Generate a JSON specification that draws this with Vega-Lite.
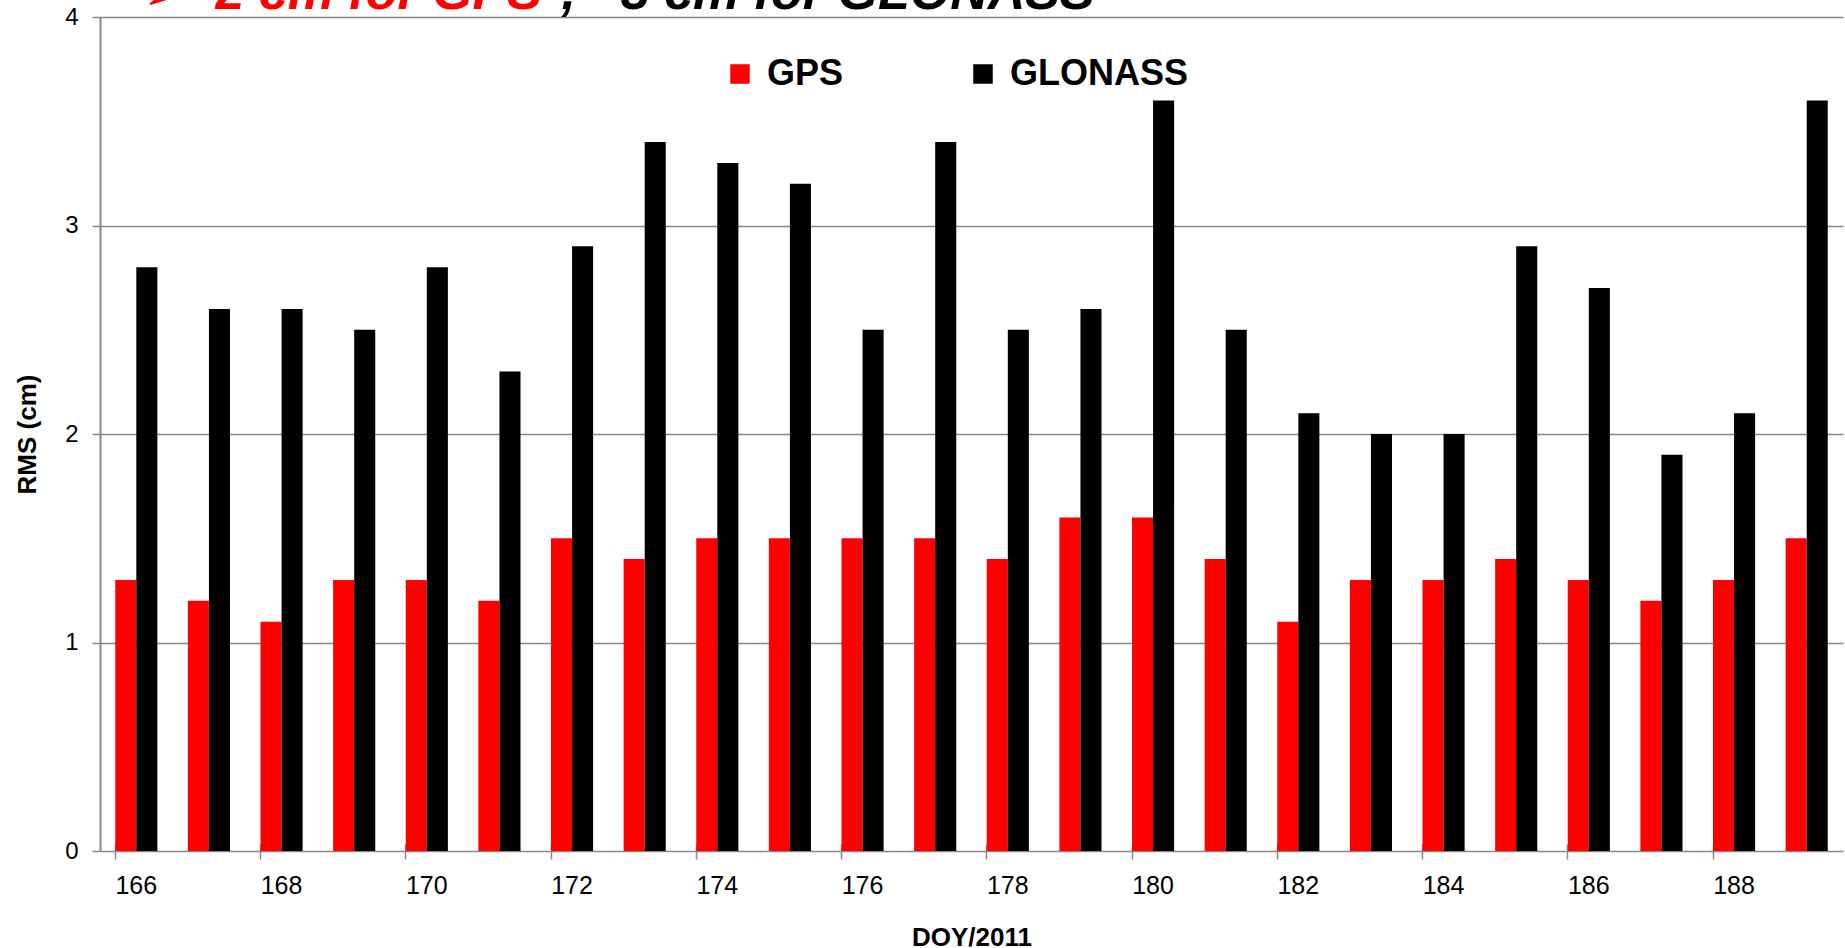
{
  "$schema": "https://vega.github.io/schema/vega-lite/v6.json",
  "width": 1743,
  "height": 834,
  "autosize": {"type": "none"},
  "padding": {"left": 100, "top": 17, "right": 2, "bottom": 97},
  "background": "white",
  "config": {"view": {"stroke": null}, "font": "Liberation Sans"},
  "data": {
    "values": [
      {"doy": 166, "system": "GPS", "rms": 1.3}, {"doy": 166, "system": "GLONASS", "rms": 2.8},
      {"doy": 167, "system": "GPS", "rms": 1.2}, {"doy": 167, "system": "GLONASS", "rms": 2.6},
      {"doy": 168, "system": "GPS", "rms": 1.1}, {"doy": 168, "system": "GLONASS", "rms": 2.6},
      {"doy": 169, "system": "GPS", "rms": 1.3}, {"doy": 169, "system": "GLONASS", "rms": 2.5},
      {"doy": 170, "system": "GPS", "rms": 1.3}, {"doy": 170, "system": "GLONASS", "rms": 2.8},
      {"doy": 171, "system": "GPS", "rms": 1.2}, {"doy": 171, "system": "GLONASS", "rms": 2.3},
      {"doy": 172, "system": "GPS", "rms": 1.5}, {"doy": 172, "system": "GLONASS", "rms": 2.9},
      {"doy": 173, "system": "GPS", "rms": 1.4}, {"doy": 173, "system": "GLONASS", "rms": 3.4},
      {"doy": 174, "system": "GPS", "rms": 1.5}, {"doy": 174, "system": "GLONASS", "rms": 3.3},
      {"doy": 175, "system": "GPS", "rms": 1.5}, {"doy": 175, "system": "GLONASS", "rms": 3.2},
      {"doy": 176, "system": "GPS", "rms": 1.5}, {"doy": 176, "system": "GLONASS", "rms": 2.5},
      {"doy": 177, "system": "GPS", "rms": 1.5}, {"doy": 177, "system": "GLONASS", "rms": 3.4},
      {"doy": 178, "system": "GPS", "rms": 1.4}, {"doy": 178, "system": "GLONASS", "rms": 2.5},
      {"doy": 179, "system": "GPS", "rms": 1.6}, {"doy": 179, "system": "GLONASS", "rms": 2.6},
      {"doy": 180, "system": "GPS", "rms": 1.6}, {"doy": 180, "system": "GLONASS", "rms": 3.6},
      {"doy": 181, "system": "GPS", "rms": 1.4}, {"doy": 181, "system": "GLONASS", "rms": 2.5},
      {"doy": 182, "system": "GPS", "rms": 1.1}, {"doy": 182, "system": "GLONASS", "rms": 2.1},
      {"doy": 183, "system": "GPS", "rms": 1.3}, {"doy": 183, "system": "GLONASS", "rms": 2.0},
      {"doy": 184, "system": "GPS", "rms": 1.3}, {"doy": 184, "system": "GLONASS", "rms": 2.0},
      {"doy": 185, "system": "GPS", "rms": 1.4}, {"doy": 185, "system": "GLONASS", "rms": 2.9},
      {"doy": 186, "system": "GPS", "rms": 1.3}, {"doy": 186, "system": "GLONASS", "rms": 2.7},
      {"doy": 187, "system": "GPS", "rms": 1.2}, {"doy": 187, "system": "GLONASS", "rms": 1.9},
      {"doy": 188, "system": "GPS", "rms": 1.3}, {"doy": 188, "system": "GLONASS", "rms": 2.1},
      {"doy": 189, "system": "GPS", "rms": 1.5}, {"doy": 189, "system": "GLONASS", "rms": 3.6}
    ]
  },
  "layer": [
    {
      "mark": {"type": "bar"},
      "encoding": {
        "x": {
          "field": "doy",
          "type": "ordinal",
          "scale": {"paddingInner": 0.42, "paddingOuter": 0.21},
          "axis": {
            "title": "DOY/2011",
            "values": [166, 168, 170, 172, 174, 176, 178, 180, 182, 184, 186, 188],
            "bandPosition": 0,
            "labelAngle": 0,
            "labelFontSize": 25,
            "labelColor": "black",
            "labelBaseline": "alphabetic",
            "labelPadding": 34,
            "tickSize": 15,
            "tickColor": "#888888",
            "tickWidth": 1.5,
            "domain": false,
            "offset": -7,
            "grid": false,
            "titleFontSize": 26,
            "titleFontWeight": "bold",
            "titleColor": "black",
            "titleX": 871.5,
            "titleY": 101,
            "titleAlign": "center",
            "titleBaseline": "alphabetic"
          }
        },
        "xOffset": {
          "field": "system",
          "type": "nominal",
          "scale": {"domain": ["GPS", "GLONASS"], "paddingInner": 0, "paddingOuter": 0}
        },
        "y": {
          "field": "rms",
          "type": "quantitative",
          "scale": {"domain": [0, 4], "nice": false},
          "axis": {
            "title": "RMS (cm)",
            "values": [0, 1, 2, 3, 4],
            "grid": true,
            "gridColor": "#888888",
            "gridWidth": 1.5,
            "domainColor": "#888888",
            "domainWidth": 2,
            "tickColor": "#888888",
            "tickSize": 8,
            "tickWidth": 1.5,
            "labelFontSize": 24,
            "labelColor": "black",
            "labelPadding": 14,
            "titleFontSize": 26,
            "titleFontWeight": "bold",
            "titleColor": "black",
            "titleAngle": -90,
            "titleX": -73,
            "titleY": 417,
            "titleAlign": "center",
            "titleBaseline": "middle"
          }
        },
        "color": {
          "field": "system",
          "type": "nominal",
          "scale": {"domain": ["GPS", "GLONASS"], "range": ["#ff0000", "#000000"]},
          "legend": {
            "title": null,
            "orient": "none",
            "legendX": 622,
            "legendY": 39,
            "direction": "horizontal",
            "symbolType": "square",
            "symbolSize": 380,
            "symbolStrokeWidth": 0,
            "labelFontSize": 36,
            "labelFontWeight": "bold",
            "labelColor": "black",
            "labelOffset": 9,
            "columnPadding": 121,
            "labelLimit": 400
          }
        }
      }
    },
    {
      "mark": {"type": "bar", "opacity": 0},
      "encoding": {
        "x": {
          "field": "doy",
          "type": "ordinal",
          "axis": {
            "orient": "top",
            "labels": false,
            "ticks": false,
            "domain": false,
            "grid": false,
            "title": "➢\u00a0 2 cm for GPS",
            "titleColor": "#ff0000",
            "titleFontSize": 52,
            "titleFontWeight": "bold",
            "titleFontStyle": "italic",
            "titleX": 42,
            "titleY": -9,
            "titleAlign": "left",
            "titleBaseline": "alphabetic"
          }
        },
        "y": {
          "field": "rms",
          "type": "quantitative",
          "axis": {
            "orient": "right",
            "labels": false,
            "ticks": false,
            "domain": false,
            "grid": false,
            "title": ", ~3 cm for GLONASS",
            "titleColor": "black",
            "titleFontSize": 52,
            "titleFontWeight": "bold",
            "titleFontStyle": "italic",
            "titleAngle": 0,
            "titleX": -1282,
            "titleY": -9,
            "titleAlign": "left",
            "titleBaseline": "alphabetic"
          }
        }
      }
    }
  ],
  "resolve": {"axis": {"x": "independent", "y": "independent"}}
}
